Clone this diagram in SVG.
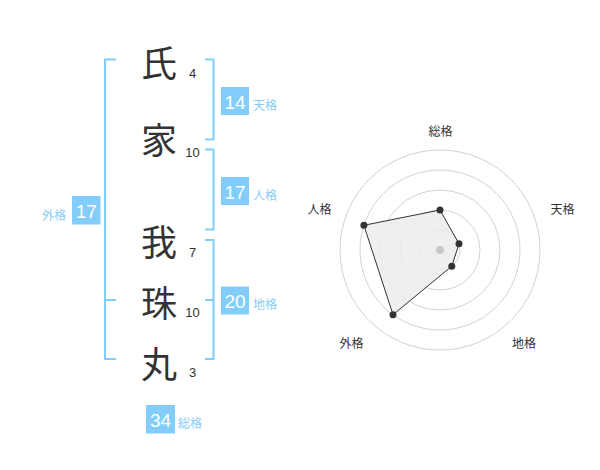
<svg xmlns="http://www.w3.org/2000/svg" width="600" height="470" viewBox="0 0 600 470">
<style>
.kanji{font-family:"Noto Sans CJK JP","Noto Sans CJK SC",sans-serif;font-size:36px;fill:#333;text-anchor:middle;dominant-baseline:central}
.stroke{font-family:"Liberation Sans",Arial,sans-serif;font-size:13px;fill:#333;text-anchor:middle}
.br{fill:none;stroke:#82cdf9;stroke-width:2}
.box{fill:#82cdf9}
.num{font-family:"Liberation Sans",Arial,sans-serif;font-size:19px;fill:#fff;text-anchor:middle}
.lab{font-family:"Noto Sans CJK JP","Noto Sans CJK SC",sans-serif;font-size:12px;fill:#86cdf6;dominant-baseline:central}
.ring{fill:none;stroke:#d2d2d2;stroke-width:1}
.axl{font-family:"Noto Sans CJK JP","Noto Sans CJK SC",sans-serif;font-size:12px;fill:#333;text-anchor:middle;dominant-baseline:central}
.pt{fill:#333}
</style>
<rect width="600" height="470" fill="#fff"/>
<g id="connectors">
<path class="br" d="M116,59.5 H105 V359 H116 M105,300 H116"/>
<path class="br" d="M205,59.5 H213.5 V139.5 H205"/>
<path class="br" d="M205,149.5 H213.5 V229.5 H205"/>
<path class="br" d="M205,240 H213.5 V359 H205 M205,300 H213.5"/>
</g>
<g id="char-1"><text class="kanji" x="159" y="61">氏</text><text class="stroke" x="192.5" y="78">4</text></g>
<g id="char-2"><text class="kanji" x="159" y="138">家</text><text class="stroke" x="192.5" y="157">10</text></g>
<g id="char-3"><text class="kanji" x="159" y="240">我</text><text class="stroke" x="192.5" y="257">7</text></g>
<g id="char-4"><text class="kanji" x="159" y="301">珠</text><text class="stroke" x="192.5" y="317">10</text></g>
<g id="char-5"><text class="kanji" x="159" y="362">丸</text><text class="stroke" x="192.5" y="377">3</text></g>
<g id="tenkaku"><rect class="box" x="221" y="87" width="28" height="28"/><text class="num" x="235" y="108.5">14</text><text class="lab" x="253" y="104">天格</text></g>
<g id="jinkaku"><rect class="box" x="221" y="177" width="28" height="28"/><text class="num" x="235" y="198.5">17</text><text class="lab" x="253" y="194">人格</text></g>
<g id="chikaku"><rect class="box" x="221" y="286.5" width="28" height="28"/><text class="num" x="235" y="308">20</text><text class="lab" x="253" y="303.5">地格</text></g>
<g id="gaikaku"><rect class="box" x="72" y="196" width="28.5" height="28.5"/><text class="num" x="86.2" y="217.5">17</text><text class="lab" x="66" y="214" text-anchor="end">外格</text></g>
<g id="soukaku"><rect class="box" x="146" y="405" width="29" height="28.5"/><text class="num" x="160.5" y="426.7">34</text><text class="lab" x="178" y="422.5">総格</text></g>
<g id="radar">
<circle class="ring" cx="440" cy="250" r="20"/>
<circle class="ring" cx="440" cy="250" r="40"/>
<circle class="ring" cx="440" cy="250" r="60"/>
<circle class="ring" cx="440" cy="250" r="80"/>
<circle class="ring" cx="440" cy="250" r="100"/>
<polygon points="440,210 459,243.8 451.8,266.2 393,314.7 363.9,225.3" fill="#ececec" fill-opacity="0.85" stroke="#333" stroke-width="1"/>
<circle cx="440" cy="250" r="4" fill="#c8c8c8"/>
<circle class="pt" cx="440" cy="210" r="3.5"/>
<circle class="pt" cx="459" cy="243.8" r="3.5"/>
<circle class="pt" cx="451.8" cy="266.2" r="3.5"/>
<circle class="pt" cx="393" cy="314.7" r="3.5"/>
<circle class="pt" cx="363.9" cy="225.3" r="3.5"/>
<text class="axl" x="440.5" y="130.5">総格</text>
<text class="axl" x="562.5" y="208">天格</text>
<text class="axl" x="524" y="342.5">地格</text>
<text class="axl" x="351.5" y="342.5">外格</text>
<text class="axl" x="319.5" y="208">人格</text>
</g>
</svg>
